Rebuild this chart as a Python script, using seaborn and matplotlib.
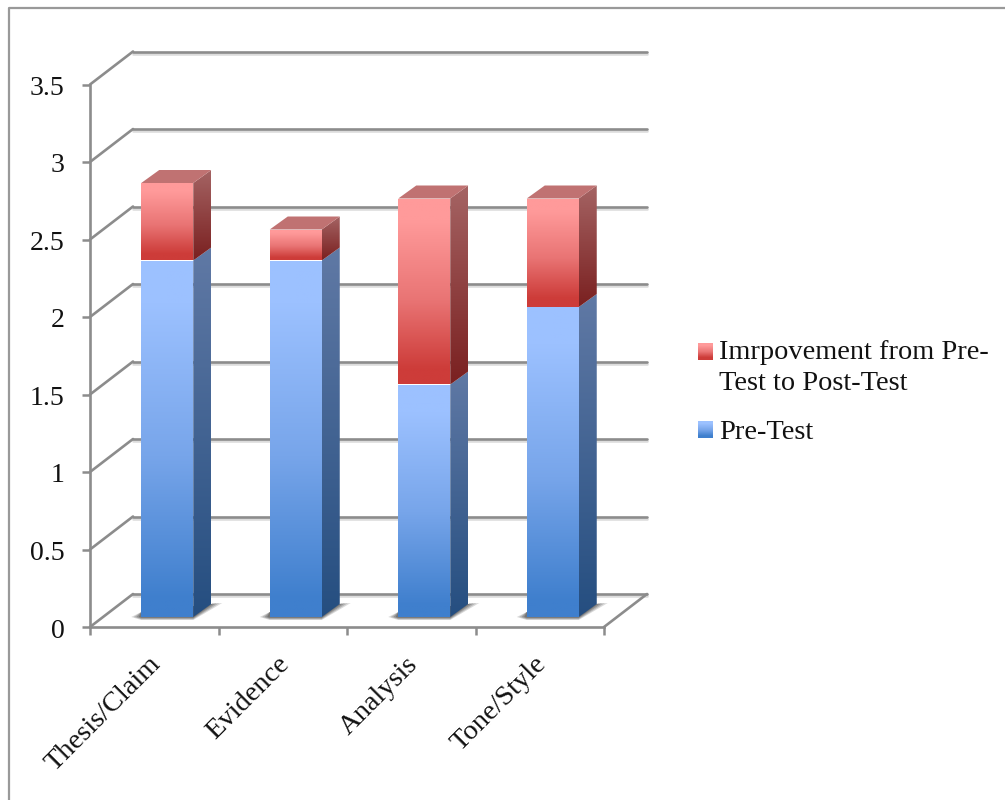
import numpy as np
import matplotlib
matplotlib.use("Agg")
import matplotlib.pyplot as plt
import matplotlib.patheffects as pe
from matplotlib.colors import LinearSegmentedColormap
from matplotlib.legend_handler import HandlerBase
from matplotlib.lines import Line2D
from matplotlib.patches import Patch, Polygon, Rectangle
from matplotlib.transforms import ScaledTranslation
import seaborn as sns

categories = ["Thesis/Claim", "Evidence", "Analysis", "Tone/Style"]
pre_test = [2.3, 2.3, 1.5, 2.0]
improvement = [0.5, 0.2, 1.2, 0.7]
y_ticks = [0, 0.5, 1, 1.5, 2, 2.5, 3, 3.5]
y_tick_labels = ["0", "0.5", "1", "1.5", "2", "2.5", "3", "3.5"]
legend_labels = ["Imrpovement from Pre-\nTest to Post-Test", "Pre-Test"]

W, H = 1005, 800
GRAY = "#8c8c8c"
TEXT = "#111111"

# fake 3d offsets, in pixels
WALL_DX, WALL_DY = 43, 33
BAR_DX, BAR_DY = 13, 10
SIDE_DX, SIDE_DY = 18, 13

blue_front = LinearSegmentedColormap.from_list(
    "bf", [(0, "#9cc1ff"), (0.12, "#9cc1ff"), (0.55, "#77a5ea"), (0.95, "#3f7fcd"), (1, "#3f7fcd")])
red_front = LinearSegmentedColormap.from_list(
    "rf", [(0, "#ff9a9a"), (0.12, "#ff9a9a"), (0.55, "#e97474"), (0.92, "#cd3c39"), (1, "#cd3c39")])
blue_side = LinearSegmentedColormap.from_list("bs", ["#6079a5", "#254e80"])
red_side = LinearSegmentedColormap.from_list("rs", ["#a56464", "#7a2020"])
gradient = np.linspace(0, 1, 256).reshape(-1, 1)

sns.set_theme(style="white")
plt.rcParams["font.family"] = ["Liberation Serif", "DejaVu Serif"]

fig = plt.figure(figsize=(W / 100, H / 100), dpi=100, facecolor="white")


def make_axes(dx, dy):
    left, bottom, right, top = 90 + dx, 627 - dy, 604 + dx, 84.5 - dy
    a = fig.add_axes([left / W, 1 - bottom / H, (right - left) / W, (bottom - top) / H])
    a.patch.set_alpha(0)
    return a


def set_limits(a):
    a.set_xlim(-0.5, 3.5)
    a.set_ylim(0, 3.5)


# back wall with the grid lines
wall = make_axes(WALL_DX, WALL_DY)
set_limits(wall)
wall.set_yticks(y_ticks)
wall.set_xticks([])
wall.tick_params(left=False, labelleft=False)
wall.grid(axis="y", color=GRAY, lw=1.9)
for line in wall.get_ygridlines():
    line.set_clip_on(False)
    line.set_path_effects([
        pe.SimpleLineShadow(offset=(0, -1.5), shadow_color="#bbbbbb", alpha=0.5),
        pe.Normal(),
    ])
sns.despine(ax=wall, left=True, bottom=True)

# front axis
ax = make_axes(0, 0)
set_limits(ax)
ax.set_yticks(y_ticks)
ax.set_yticklabels(y_tick_labels, fontsize=20, color=TEXT)
ax.set_xticks(np.arange(-0.5, 4))
ax.set_xticklabels([])
ax.set_xticks(np.arange(4), labels=categories, minor=True, rotation=45, ha="right",
              rotation_mode="anchor", fontsize=20.5, color=TEXT)
ax.tick_params(axis="both", which="major", color=GRAY, width=1.8, length=6, left=True, bottom=True)
ax.tick_params(axis="x", which="minor", length=0, pad=18)
ax.tick_params(axis="y", pad=12.5)
for label in ax.get_xticklabels(minor=True):
    label.set_transform(label.get_transform() + ScaledTranslation(-0.06, 0, fig.dpi_scale_trans))
for label in ax.get_yticklabels():
    label.set_transform(label.get_transform() + ScaledTranslation(0, -0.01, fig.dpi_scale_trans))
sns.despine(ax=ax)
for side in ["left", "bottom"]:
    ax.spines[side].set_color(GRAY)
    ax.spines[side].set_linewidth(1.9)

# slanted lines from the axis back to the wall
wall_dx = WALL_DX / (514 / 4)
wall_dy = WALL_DY / 155
for v in y_ticks:
    ax.plot([-0.5, -0.5 + wall_dx], [v, v + wall_dy], color=GRAY, lw=1.9, clip_on=False)
ax.plot([3.5, 3.5 + wall_dx], [0, wall_dy], color=GRAY, lw=1.9, clip_on=False)

# bars, shifted into the floor
bars = make_axes(BAR_DX, BAR_DY)
sns.barplot(x=categories, y=pre_test, ax=bars, width=52 / 128.5, color="#7ba6ea", saturation=1)
n_pre = len(bars.patches)
sns.barplot(x=categories, y=improvement, bottom=pre_test, ax=bars, width=52 / 128.5,
            color="#e56f6f", saturation=1)
set_limits(bars)
bars.axis("off")

side_dx = SIDE_DX / 128.5
side_dy = SIDE_DY / 155
px_x = 1 / 128.5
px_y = 1 / 155


def fill_gradient(a, patch, cmap, z):
    if isinstance(patch, Rectangle):
        box = patch.get_bbox()
        x0, x1, y0, y1 = box.x0, box.x1, box.y0, box.y1
    else:
        xy = patch.get_xy()
        x0, x1 = xy[:, 0].min(), xy[:, 0].max()
        y0, y1 = xy[:, 1].min(), xy[:, 1].max()
    im = a.imshow(gradient, extent=(x0, x1, y0, y1), origin="upper", aspect="auto",
                  cmap=cmap, zorder=z, vmin=0, vmax=1)
    im.set_clip_path(patch)


for i, rect in enumerate(list(bars.patches)):
    is_pre = i < n_pre
    box = rect.get_bbox()
    x0, x1, y0, y1 = box.x0, box.x1, box.y0, box.y1

    # soft shadow on the floor
    if is_pre:
        for grow, alpha in [(1.0, 0.2), (0.75, 0.24), (0.5, 0.3), (0.25, 0.36)]:
            shadow = Polygon([
                (x0 - 10 * grow * px_x, 0),
                (x0, -3 * grow * px_y),
                (x1, -3 * grow * px_y),
                (x1 + (SIDE_DX + 11 * grow) * px_x, (SIDE_DY + 1) * px_y),
                (x1 + SIDE_DX * px_x, SIDE_DY * px_y),
                (x0, 5 * px_y),
            ], closed=True, fc="#444444", ec="none", alpha=alpha, zorder=1, clip_on=False)
            bars.add_patch(shadow)

    face = Polygon([(x1, y0), (x1 + side_dx, y0 + side_dy),
                    (x1 + side_dx, y1 + side_dy), (x1, y1)],
                   closed=True, fc="none", ec="none", transform=bars.transData)
    bars.add_patch(face)
    fill_gradient(bars, face, blue_side if is_pre else red_side, 2)
    rect.set_facecolor("none")
    rect.set_edgecolor("none")
    fill_gradient(bars, rect, blue_front if is_pre else red_front, 3)

    if not is_pre:
        top = Polygon([(x0, y1), (x1, y1), (x1 + side_dx, y1 + side_dy), (x0 + side_dx, y1 + side_dy)],
                      closed=True, fc="#c07272", ec="none", zorder=3)
        bars.add_patch(top)

set_limits(bars)


class GradientHandler(HandlerBase):
    def __init__(self, cmap, shift=0):
        super().__init__()
        self.cmap = cmap
        self.shift = shift

    def create_artists(self, legend, orig_handle, xdescent, ydescent, width, height, fontsize, trans):
        artists = []
        n = 16
        for k in range(n):
            y = ydescent + self.shift + height * (n - 1 - k) / n
            artists.append(Rectangle((xdescent, y), width, height / n + 0.2,
                                     fc=self.cmap(k / (n - 1)), ec="none", transform=trans))
        return artists


red_handle = Patch(color="#e56f6f")
blue_handle = Patch(color="#7ba6ea")
leg = fig.legend([red_handle, blue_handle], legend_labels, loc="upper left",
                 bbox_to_anchor=(698 / W, 1 - 340 / H), frameon=False, fontsize=20.4,
                 labelcolor=TEXT, handlelength=0.53, handleheight=0.53, handletextpad=0.22,
                 labelspacing=0.83, borderpad=0, borderaxespad=0,
                 handler_map={red_handle: GradientHandler(red_front, shift=14),
                              blue_handle: GradientHandler(blue_front, shift=2)})
for text in leg.get_texts():
    text.set_linespacing(1.32)

# outer frame of the chart
fig.add_artist(Line2D([9 / W, 9 / W, 1], [0, 1 - 8 / H, 1 - 8 / H], color="#999999", lw=1.6))

fig.savefig("out.png", dpi=100)
